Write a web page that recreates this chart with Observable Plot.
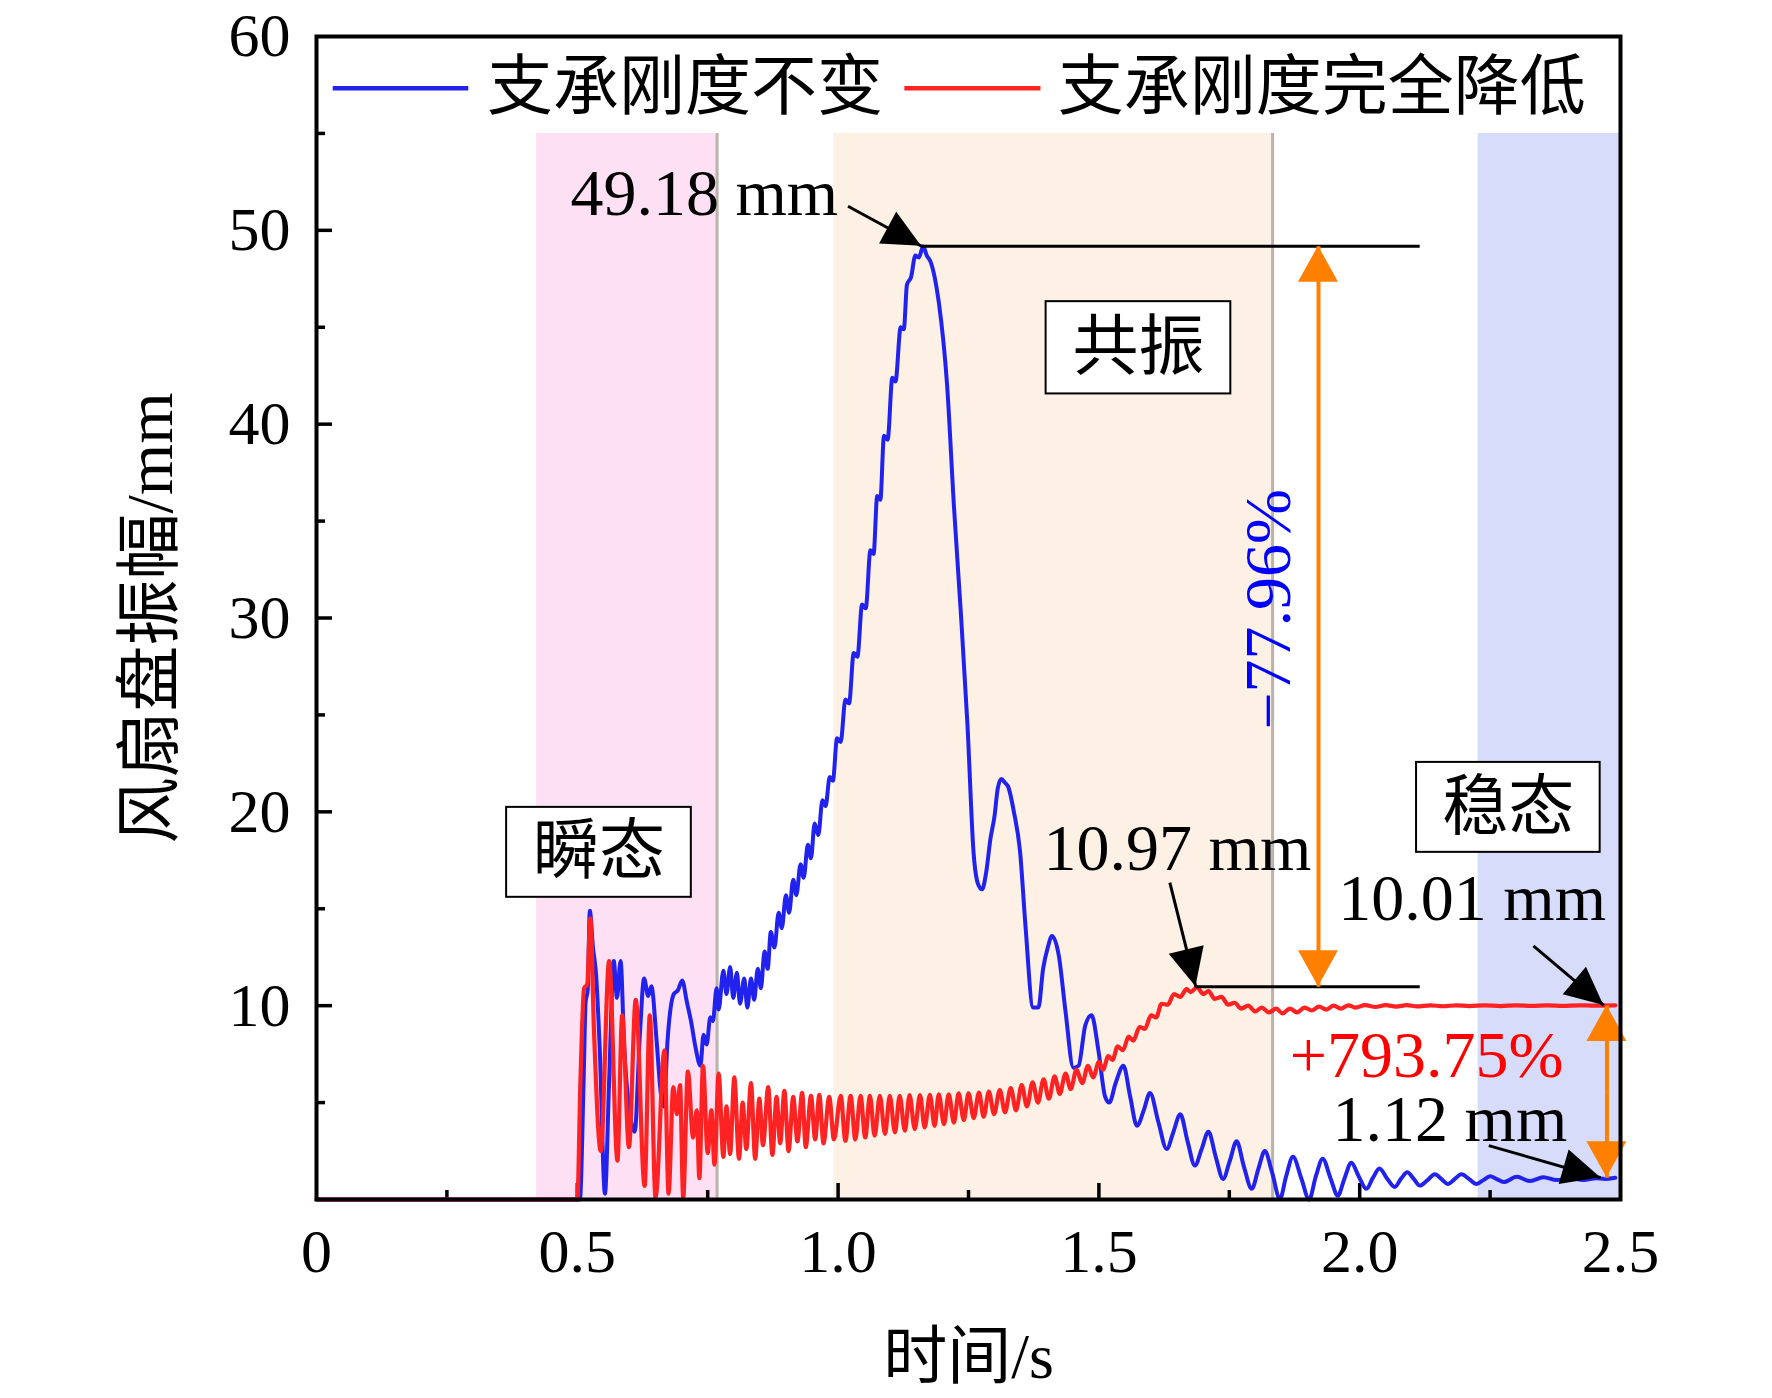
<!DOCTYPE html>
<html>
<head>
<meta charset="utf-8">
<script src="https://cdn.jsdelivr.net/npm/d3@7"></script>
<script src="https://cdn.jsdelivr.net/npm/@observablehq/plot@0.6"></script>
<style>
  html, body { margin: 0; padding: 0; background: #fff; }
</style>
</head>
<body>
<div id="chart"></div>
<script>
// ---------------- data ----------------
const seriesNames = ["支承刚度不变", "支承刚度完全降低"];
const phaseLabels = ["瞬态", "共振", "稳态"];
const phaseStart = [0.422, 0.992, 2.227];
const phaseEnd = [0.768, 1.833, 2.5];
const phaseTop = 55;
const phaseBoundaries = [0.768, 1.833];
const peakValues = [49.18, 10.97, 10.01, 1.12];
const changeLabels = ["−77.96%", "+793.75%"];

const xTickValues = [0, 0.5, 1.0, 1.5, 2.0, 2.5];
const xTickLabels = ["0", "0.5", "1.0", "1.5", "2.0", "2.5"];
const yTickValues = [10, 20, 30, 40, 50, 60];
const xMajorTicks = [0.5, 1.0, 1.5, 2.0];
const xMinorTicks = [0.25, 0.75, 1.25, 1.75, 2.25];
const yMajorTicks = [10, 20, 30, 40, 50];
const yMinorTicks = [5, 15, 25, 35, 45, 55];

// 支承刚度不变 (blue)
const blueT = [0,0.505,0.512,0.516,0.520,0.524,0.530,0.536,0.543,0.553,0.561,0.570,0.576,0.583,0.590,0.600,0.610,0.620,0.628,0.636,0.642,0.652,0.660,0.666,0.673,0.685,0.693,0.701,0.710,0.718,0.727,0.736,0.742,0.748,0.755,0.760,0.767,0.771,0.780,0.786,0.793,0.799,0.806,0.812,0.820,0.826,0.833,0.839,0.846,0.852,0.859,0.865,0.871,0.878,0.886,0.892,0.900,0.906,0.914,0.920,0.928,0.934,0.942,0.948,0.955,0.962,0.970,0.976,0.984,0.990,0.998,1.005,1.014,1.021,1.030,1.037,1.046,1.053,1.062,1.068,1.075,1.081,1.088,1.095,1.104,1.110,1.120,1.126,1.132,1.140,1.148,1.155,1.163,1.170,1.177,1.185,1.193,1.209,1.222,1.235,1.248,1.260,1.268,1.276,1.284,1.292,1.300,1.306,1.313,1.320,1.326,1.337,1.349,1.359,1.374,1.384,1.393,1.402,1.410,1.423,1.436,1.451,1.461,1.474,1.486,1.499,1.512,1.520,1.532,1.547,1.560,1.573,1.586,1.598,1.614,1.630,1.643,1.656,1.670,1.684,1.697,1.710,1.724,1.738,1.751,1.764,1.778,1.793,1.806,1.818,1.832,1.847,1.859,1.872,1.888,1.903,1.916,1.929,1.944,1.958,1.971,1.984,1.998,2.013,2.025,2.038,2.052,2.067,2.080,2.091,2.104,2.115,2.130,2.144,2.157,2.169,2.182,2.195,2.210,2.224,2.237,2.250,2.263,2.276,2.301,2.327,2.352,2.378,2.403,2.429,2.454,2.470,2.490];
const blueV = [0,0,6.0,10.2,10.8,14.9,13.0,11.6,7.8,0.3,6.1,12.3,10.4,12.3,7.8,4.6,3.5,8.5,11.4,10.5,11.0,8.2,5.5,4.8,8.2,10.6,10.8,11.3,10.2,9.2,7.8,6.9,8.5,8.0,9.4,9.2,10.9,9.8,11.8,10.6,12.0,10.4,11.7,10.1,11.4,9.9,11.4,10.3,11.9,10.9,12.8,11.9,13.8,13.0,14.8,14.0,15.7,14.8,16.5,15.7,17.3,16.6,18.3,17.6,19.4,18.8,20.6,20.3,21.8,21.6,23.8,23.6,25.8,25.6,28.2,28.0,30.7,30.5,33.5,33.3,36.3,36.1,39.4,39.2,42.4,42.2,45.0,44.9,47.2,47.6,48.7,48.6,49.18,48.7,48.4,47.6,46.3,42.0,35.8,30.4,24.5,17.8,16.3,16.0,16.9,18.6,19.8,21.2,21.7,21.5,21.3,20.0,17.9,14.2,9.9,9.9,11.9,13.0,13.6,12.6,9.7,6.8,6.9,9.0,9.5,7.7,5.3,5.0,6.0,6.9,5.3,3.8,4.6,5.5,4.0,2.6,3.5,4.4,3.0,1.75,2.6,3.5,2.2,1.06,2.0,3.0,1.7,0.55,1.6,2.5,1.4,0.03,1.2,2.2,1.1,0.0,1.2,2.1,1.1,0.2,1.1,1.9,1.2,0.55,1.1,1.6,1.1,0.65,1.1,1.4,1.05,0.72,1.0,1.3,1.05,0.8,1.05,1.3,1.05,0.8,1.0,1.2,1.05,0.9,1.17,0.95,1.15,1.0,1.1,1.0,1.1,1.06,1.12];

// 支承刚度完全降低 (red)
const redT = [0,0.500,0.506,0.513,0.519,0.525,0.532,0.545,0.561,0.577,0.586,0.599,0.612,0.629,0.639,0.650,0.667,0.675,0.684,0.691,0.697,0.703,0.712,0.722,0.729,0.734,0.741,0.750,0.757,0.763,0.771,0.780,0.786,0.793,0.801,0.810,0.817,0.824,0.833,0.841,0.849,0.856,0.866,0.874,0.882,0.889,0.897,0.905,0.914,0.922,0.931,0.938,0.948,0.956,0.964,0.972,0.983,0.992,1.005,1.014,1.024,1.033,1.043,1.052,1.061,1.070,1.080,1.090,1.099,1.109,1.118,1.128,1.137,1.147,1.157,1.166,1.176,1.185,1.193,1.203,1.212,1.222,1.231,1.241,1.250,1.260,1.270,1.279,1.289,1.299,1.310,1.320,1.331,1.341,1.352,1.362,1.373,1.383,1.394,1.404,1.415,1.425,1.436,1.446,1.457,1.468,1.479,1.489,1.500,1.508,1.518,1.526,1.536,1.546,1.557,1.566,1.578,1.588,1.600,1.610,1.620,1.632,1.644,1.656,1.668,1.676,1.688,1.700,1.710,1.722,1.735,1.748,1.760,1.773,1.786,1.800,1.812,1.826,1.840,1.852,1.866,1.880,1.894,1.908,1.922,1.936,1.950,1.964,1.978,1.992,2.010,2.030,2.050,2.070,2.090,2.110,2.135,2.160,2.185,2.210,2.240,2.270,2.300,2.330,2.360,2.390,2.420,2.450,2.490];
const redV = [0,0,6.1,10.9,11.1,14.5,8.7,2.5,12.3,2.0,9.5,2.7,10.3,0.7,9.5,0.1,7.7,0.3,5.8,4.4,5.9,0.1,6.6,3.2,4.6,1.1,6.9,2.4,4.6,1.8,6.5,2.2,4.8,2.35,6.3,2.1,5.0,2.6,6.0,2.1,5.2,2.8,5.8,2.3,5.3,2.9,5.6,2.5,5.3,3.0,5.5,2.7,5.35,3.1,5.4,2.9,5.3,3.1,5.35,3.03,5.35,3.1,5.35,3.2,5.35,3.29,5.35,3.38,5.35,3.46,5.35,3.55,5.38,3.63,5.38,3.72,5.40,3.80,5.43,3.89,5.43,3.97,5.47,4.10,5.48,4.20,5.52,4.27,5.57,4.40,5.65,4.50,5.75,4.60,5.90,4.80,6.05,5.00,6.20,5.20,6.35,5.45,6.50,5.70,6.70,6.00,6.90,6.30,7.10,6.70,7.40,7.20,7.90,7.70,8.40,8.20,8.90,8.80,9.50,9.40,10.10,10.05,10.60,10.45,10.85,10.70,10.95,10.60,10.75,10.35,10.45,10.05,10.15,9.85,10.00,9.70,9.90,9.65,9.85,9.60,9.85,9.65,9.90,9.75,9.95,9.80,10.00,9.85,10.02,9.90,10.03,9.93,10.03,9.95,10.03,9.96,10.02,9.97,10.02,9.98,10.02,9.98,10.02,9.99,10.02,9.99,10.02,10.00,10.01];

// ---------------- tables ----------------
const blueData = blueT.map((t, i) => ({t, v: blueV[i]}));
const redData = redT.map((t, i) => ({t, v: redV[i]}));
const phaseFill = ["#fde0f3", "#fdf0e5", "#d8dcfb"];
const phases = phaseStart.map((x1, i) => ({x1, x2: phaseEnd[i], fill: phaseFill[i]}));

const BLUE = "#2222ee", RED = "#ff2222", ORANGE = "#ff8000";
const W = 1772, H = 1398, ML = 316, MR = 152, MT = 36, MB = 199;
const PW = W - ML - MR, PH = H - MT - MB;
const LATIN = "'Liberation Serif','Times New Roman','Noto Sans CJK SC',serif";

// arrow annotation geometry [x1, y1, x2(tip), y2(tip)]
const blackArrows = [
  [1.019, 51.24, 1.160, peakValues[0]],
  [1.636, 16.35, 1.686, peakValues[1]],
  [2.333, 13.09, 2.468, peakValues[2]],
  [2.2475, 2.78, 2.462, peakValues[3]]
];
const orangeArrows = [
  [1.921, 30, 1.921, peakValues[0]],
  [1.921, 30, 1.921, peakValues[1]],
  [2.474, 5.5, 2.474, peakValues[2]],
  [2.474, 5.5, 2.474, peakValues[3]]
];

function heads(specs, color, len, halfW) {
  return (index, scales) => {
    const g = d3.create("svg:g");
    for (const s of specs) {
      const x1 = scales.x(s[0]), y1 = scales.y(s[1]), x2 = scales.x(s[2]), y2 = scales.y(s[3]);
      const a = Math.atan2(y2 - y1, x2 - x1);
      const bx = x2 - len * Math.cos(a), by = y2 - len * Math.sin(a);
      const px = -Math.sin(a) * halfW, py = Math.cos(a) * halfW;
      g.append("path")
        .attr("d", `M${x2},${y2}L${bx + px},${by + py}L${bx - px},${by - py}Z`)
        .attr("fill", color);
    }
    return g.node();
  };
}

const chart = Plot.plot({
  width: W, height: H,
  marginLeft: ML, marginRight: MR, marginTop: MT, marginBottom: MB,
  style: {fontFamily: LATIN, fontSize: "62px", background: "#fff", color: "#000"},
  x: {domain: [0, 2.5], ticks: xTickValues, tickFormat: d => xTickLabels[xTickValues.indexOf(d)], tickSize: 0, tickPadding: 28, label: null},
  y: {domain: [0, 60], ticks: yTickValues, tickFormat: d => String(d), tickSize: 0, tickPadding: 26, label: null},
  marks: [
    Plot.rect(phases, {x1: "x1", x2: "x2", y1: 0, y2: phaseTop, fill: d => d.fill}),
    Plot.ruleX(phaseBoundaries, {y1: 0, y2: phaseTop, stroke: "#bab3ac", strokeWidth: 3}),
    // inward ticks
    Plot.ruleX(xMajorTicks, {stroke: "#000", strokeWidth: 3.5, insetTop: PH - 16}),
    Plot.ruleX(xMinorTicks, {stroke: "#000", strokeWidth: 3.5, insetTop: PH - 9}),
    Plot.ruleY(yMajorTicks, {stroke: "#000", strokeWidth: 3.5, insetRight: PW - 16}),
    Plot.ruleY(yMinorTicks, {stroke: "#000", strokeWidth: 3.5, insetRight: PW - 9}),
    // series
    Plot.line(blueData, {x: "t", y: "v", stroke: BLUE, strokeWidth: 4, curve: "monotone-x"}),
    Plot.line(redData, {x: "t", y: "v", stroke: RED, strokeWidth: 4.2, curve: "monotone-x"}),
    // reference lines
    Plot.ruleY([peakValues[0]], {x1: 1.160, x2: 2.116, stroke: "#000", strokeWidth: 3}),
    Plot.ruleY([peakValues[1]], {x1: 1.686, x2: 2.116, stroke: "#000", strokeWidth: 3}),
    // orange double arrows
    Plot.link(orangeArrows, {x1: d => d[0], y1: d => d[1], x2: d => d[2], y2: d => d[3], stroke: ORANGE, strokeWidth: 4}),
    heads(orangeArrows, ORANGE, 36, 20),
    // black arrows
    Plot.link(blackArrows, {x1: d => d[0], y1: d => d[1], x2: d => d[2], y2: d => d[3], stroke: "#000", strokeWidth: 3}),
    heads(blackArrows, "#000", 38, 18),
    // phase boxes
    Plot.rect(phaseLabels, {x1: [0.3645, 1.3988, 2.109], x2: [0.7186, 1.7529, 2.461], y1: [15.59, 41.56, 17.91], y2: [20.23, 46.32, 22.55], fill: "#fff", stroke: "#000", strokeWidth: 2}),
    Plot.text(phaseLabels, {x: [0.5415, 1.5758, 2.285], y: [17.91, 43.94, 20.23], fontSize: 66, fill: "#000"}),
    // value annotations
    Plot.text([`${peakValues[0]} mm`], {x: 0.487, y: 51.88, textAnchor: "start", fontSize: 66}),
    Plot.text([`${peakValues[1]} mm`], {x: 1.394, y: 18.1, textAnchor: "start", fontSize: 66}),
    Plot.text([`${peakValues[2]} mm`], {x: 1.959, y: 15.5, textAnchor: "start", fontSize: 66}),
    Plot.text([`${peakValues[3]} mm`], {x: 1.948, y: 4.13, textAnchor: "start", fontSize: 66}),
    Plot.text([changeLabels[0]], {x: 1.825, y: 30.45, rotate: -90, fontSize: 66, fill: "#0000ff"}),
    Plot.text([changeLabels[1]], {x: 1.866, y: 7.43, textAnchor: "start", fontSize: 66, fill: "#ff0000"}),
    // legend
    Plot.link([0], {x1: 0.031, x2: 0.291, y1: 57.33, y2: 57.33, stroke: BLUE, strokeWidth: 4.5}),
    Plot.link([0], {x1: 1.127, x2: 1.388, y1: 57.33, y2: 57.33, stroke: RED, strokeWidth: 4.5}),
    Plot.text(seriesNames, {x: [0.327, 1.421], y: 57.33, textAnchor: "start", fontSize: 66}),
    // axis titles
    Plot.text(["时间/s"], {frameAnchor: "bottom", dy: 158, textAnchor: "middle", lineAnchor: "middle", fontSize: 64}),
    Plot.text(["风扇盘振幅/mm"], {frameAnchor: "left", dx: -166, rotate: -90, textAnchor: "middle", lineAnchor: "middle", fontSize: 66}),
    Plot.frame({stroke: "#000", strokeWidth: 4})
  ]
});
document.getElementById("chart").appendChild(chart);
</script>
</body>
</html>
